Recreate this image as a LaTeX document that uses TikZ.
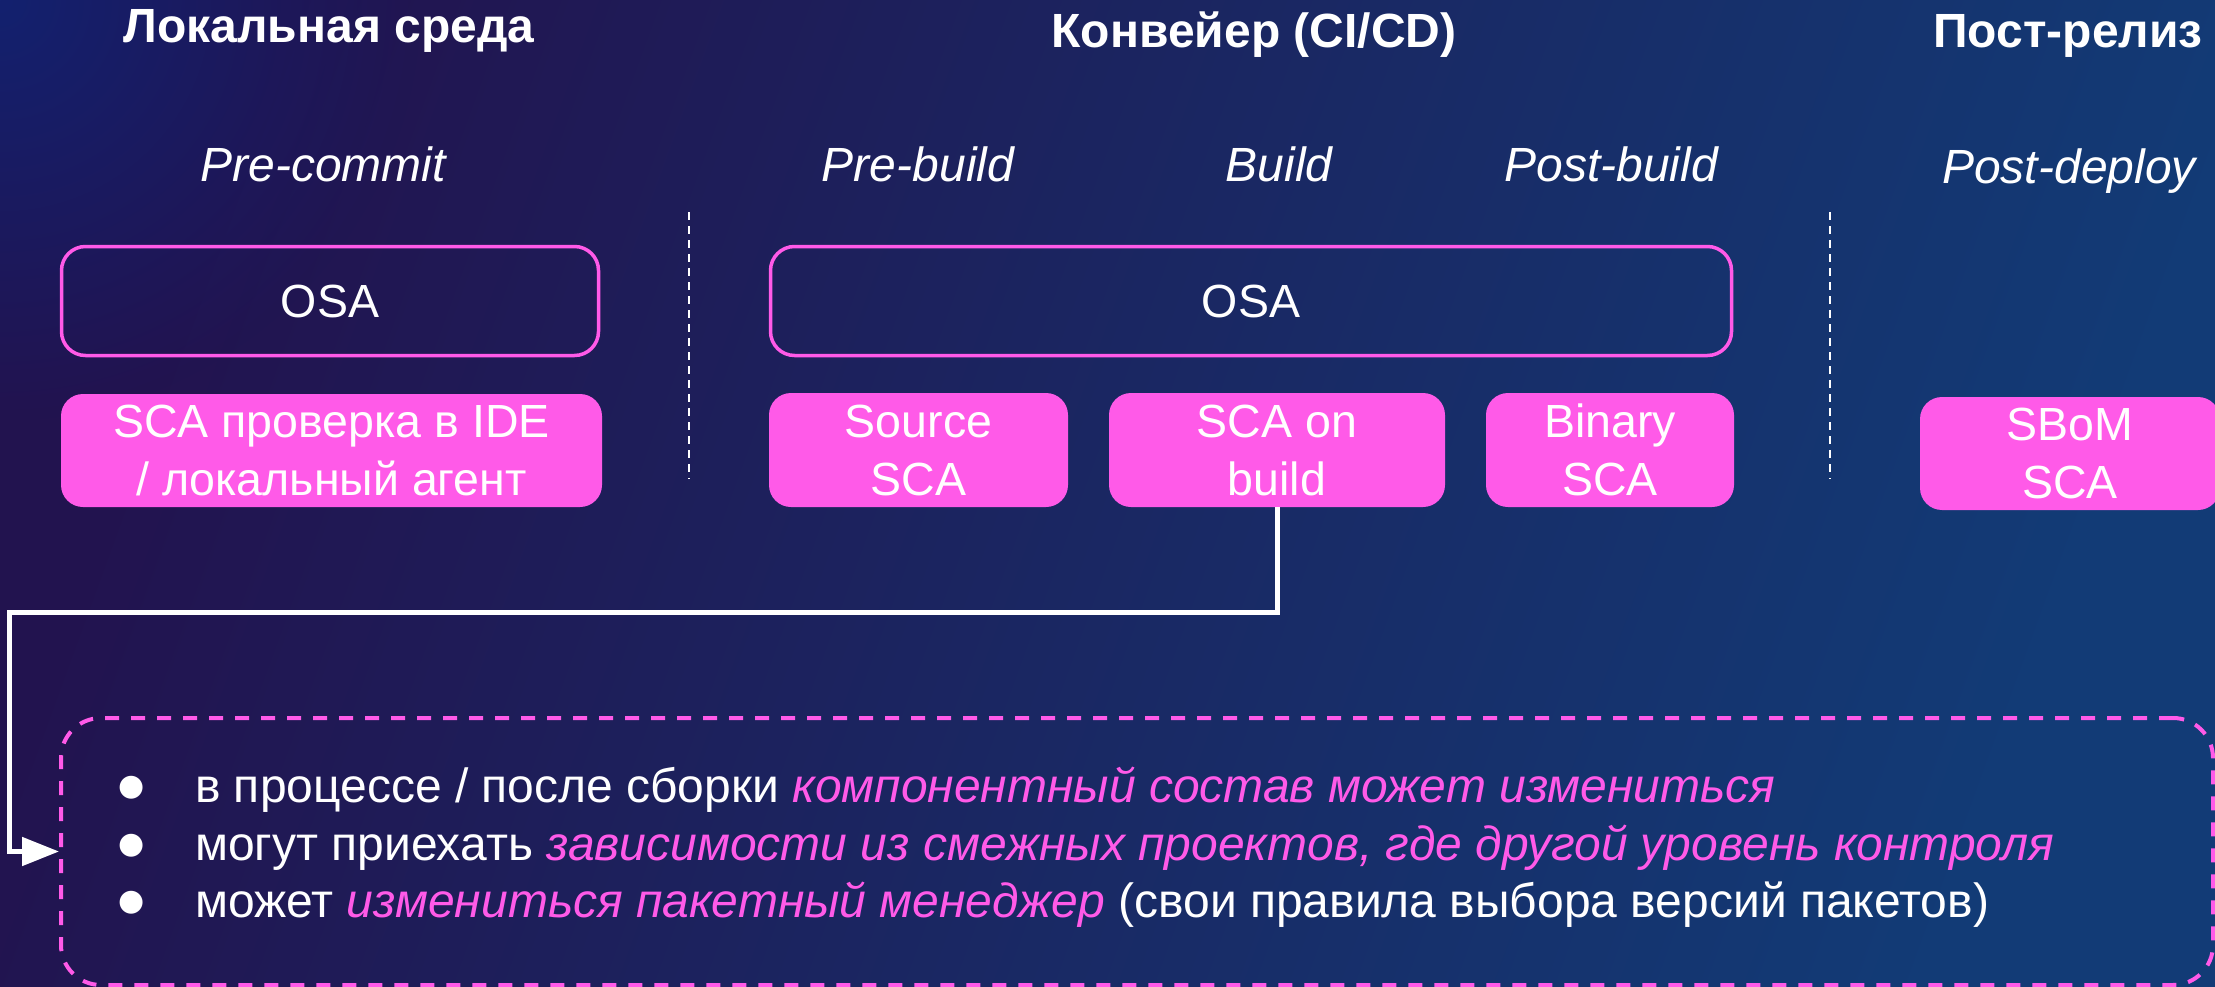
\documentclass[tikz,border=0pt]{standalone}
\usepackage{fontspec}
\setmainfont{Liberation Sans}
\newfontfamily\dejavu{DejaVu Sans}
\usetikzlibrary{arrows.meta,fadings}
\definecolor{pinkc}{HTML}{FF5AE8}
\definecolor{bgL}{HTML}{22134F}
\definecolor{bgM}{HTML}{1D1F5E}
\definecolor{bgR}{HTML}{123B76}
\definecolor{bgC}{HTML}{13216F}
\tikzfading[name=cornerfade, inner color=transparent!0, outer color=transparent!100]
\newcommand{\hlpink}[1]{{\color{pinkc}\itshape #1}}
\tikzset{
  hdr/.style={font=\bfseries\fontsize{48}{58}\selectfont, text=white, anchor=base, inner sep=0pt},
  stage/.style={font=\itshape\fontsize{48}{58}\selectfont, text=white, anchor=base, inner sep=0pt},
  osabox/.style={draw=pinkc, line width=3.5pt, rounded corners=24pt, text=white,
    font=\fontsize{46.5}{58}\selectfont, inner sep=0pt},
  scabox/.style={fill=pinkc, rounded corners=22pt, text=white, align=center,
    font=\fontsize{46.5}{58}\selectfont, inner sep=0pt},
  divider/.style={draw=white, line width=1.8pt, dash pattern=on 8pt off 6pt},
  conn/.style={draw=white, line width=5pt, -{Triangle[length=37pt,width=28pt]}},
  notebox/.style={draw=pinkc, line width=4pt, dash pattern=on 14pt off 12pt,
    rounded corners=40pt, inner sep=0pt},
  item/.style={anchor=base west, inner sep=0pt, text=white, font=\fontsize{48}{58}\selectfont},
  dot/.style={inner sep=0pt, text=white, font=\dejavu\fontsize{30}{30}\selectfont},
}
\begin{document}
\begin{tikzpicture}[x=1pt,y=-1pt]
\useasboundingbox (0,0) rectangle (2215,987);
% background
\shade[left color=bgL, middle color=bgM, right color=bgR, shading angle=70]
  (0,0) rectangle (2215,987);
\fill[bgC, path fading=cornerfade] (-420,-420) rectangle (420,420);

% column headers
\node[hdr] (hLocal) at (329,43) {Локальная среда};
\node[hdr] (hCI) at (1254,48) {Конвейер (CI/CD)};
\node[hdr] (hPost) at (2068,48) {Пост-релиз};

% stage labels
\node[stage] (sPre) at (323,182) {Pre-commit};
\node[stage] (sPreB) at (918,182) {Pre-build};
\node[stage] (sB) at (1279,182) {Build};
\node[stage] (sPostB) at (1611,182) {Post-build};
\node[stage] (sDep) at (2069,183) {Post-deploy};

% dividers between environments
\draw[divider] (689,212) -- (689,479);
\draw[divider] (1830,212) -- (1830,479);

% OSA boxes
\node[osabox, minimum width=537pt, minimum height=109pt] (osaL) at (330,301) {OSA};
\node[osabox, minimum width=961pt, minimum height=109pt] (osaC) at (1251,301) {OSA};

% SCA boxes
\node[scabox, minimum width=541pt, minimum height=113pt] (ide) at (331.5,450.5)
  {SCA проверка в IDE\\/ локальный агент};
\node[scabox, minimum width=299pt, minimum height=114pt] (src) at (918.5,450) {Source\\SCA};
\node[scabox, minimum width=336pt, minimum height=114pt] (bld) at (1277,450) {SCA on\\build};
\node[scabox, minimum width=248pt, minimum height=114pt] (bin) at (1610,450) {Binary\\SCA};
\node[scabox, minimum width=300pt, minimum height=113pt] (sbom) at (2070,453.5) {SBoM\\SCA};

% notes
\node[notebox, minimum width=2152pt, minimum height=267pt] (notes) at (1137,851.5) {};
\node[dot] (d1) at (132,788) {●};
\node[dot] (d2) at (132,846) {●};
\node[dot] (d3) at (132,903) {●};
\node[item] (i1) at (195,802) {в процессе / после сборки \hlpink{компонентный состав может измениться}};
\node[item] (i2) at (195,860) {могут приехать \hlpink{зависимости из смежных проектов, где другой уровень контроля}};
\node[item] (i3) at (195,917) {может \hlpink{измениться пакетный менеджер} (свои правила выбора версий пакетов)};

% connector
\coordinate (elbow) at (9,612);
\draw[conn] (bld.south) |- (elbow) |- (notes.west);
\end{tikzpicture}
\end{document}
